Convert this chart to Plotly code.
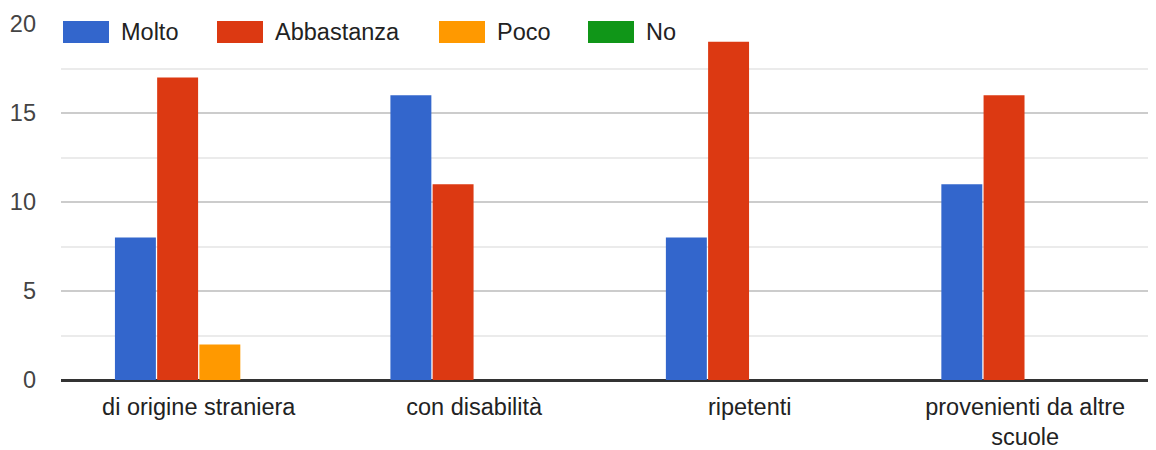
import plotly.graph_objects as go

categories = ["di origine straniera", "con disabilità", "ripetenti", "provenienti da altre<br>scuole"]
series_names = ["Molto", "Abbastanza", "Poco", "No"]
molto = [8, 16, 8, 11]
abbastanza = [17, 11, 19, 16]
poco = [2, 0, 0, 0]
no = [0, 0, 0, 0]
series_values = [molto, abbastanza, poco, no]
colors = ["#3366cc", "#dc3912", "#ff9900", "#109618"]
y_ticks = [0, 5, 10, 15, 20]

# page has an 8px body margin; size the figure so the plot reaches the right edge
OFF = 8
W, H = 1148, 442
ML, MR, MT, MB = 53, 0, 16, 70
PW, PH = W - ML - MR, H - MT - MB
FS = 23.5

def px_x(x):
    return (x - OFF - ML) / PW

def px_y(y):
    return (H - MB - (y - OFF)) / PH

fig = go.Figure()
for name, vals, col in zip(series_names, series_values, colors):
    fig.add_trace(go.Bar(x=categories, y=vals, name=name, marker=dict(color=col, line=dict(width=0)),
                         showlegend=False))

# custom legend (large swatches like the original)
swatch_x = [63, 217, 439, 588]
shapes = []
annotations = []
for name, col, sx in zip(series_names, colors, swatch_x):
    shapes.append(dict(type="rect", xref="paper", yref="paper",
                       x0=px_x(sx), x1=px_x(sx + 46), y0=px_y(43), y1=px_y(21),
                       fillcolor=col, line=dict(width=0), layer="above"))
    annotations.append(dict(xref="paper", yref="paper", x=px_x(sx + 57), y=px_y(32),
                            xanchor="left", yanchor="middle", text=name, showarrow=False,
                            bgcolor="white", borderpad=0,
                            font=dict(family="Arial", size=FS, color="#222222")))

fig.update_layout(
    width=W, height=H,
    margin=dict(l=ML, r=MR, t=MT, b=MB, autoexpand=False),
    paper_bgcolor="white", plot_bgcolor="white",
    barmode="group", bargap=0.387, bargroupgap=0.03,
    shapes=shapes, annotations=annotations,
    font=dict(family="Arial", size=FS, color="#222222"),
    xaxis=dict(range=[-0.5, 3.475], showgrid=False, showline=False, zeroline=False,
               ticks="", tickfont=dict(size=FS, color="#222222"), ticklabelstandoff=10,
               automargin=False, fixedrange=True),
    yaxis=dict(range=[0, 20], tickvals=y_ticks, showgrid=True, gridcolor="#cccccc", gridwidth=2,
               minor=dict(dtick=2.5, showgrid=True, gridcolor="#ebebeb", gridwidth=2),
               zeroline=True, zerolinecolor="#333333", zerolinewidth=3,
               showline=False, ticks="", ticklabelstandoff=24, automargin=False,
               tickfont=dict(size=FS, color="#444444")),
)

fig.write_html("out.html")
